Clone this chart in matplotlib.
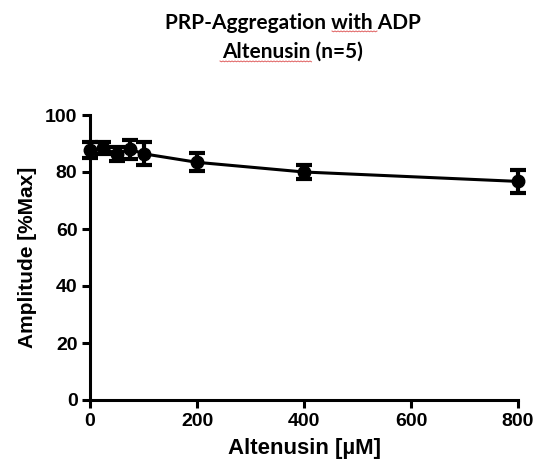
import matplotlib
matplotlib.use("Agg")
import matplotlib.pyplot as plt
import numpy as np

conc = [0, 25, 50, 75, 100, 200, 400, 800]
amplitude = [87.6, 88.4, 86.3, 88.0, 86.4, 83.4, 80.0, 76.7]
sem = [2.8, 2.0, 2.5, 3.4, 4.0, 3.2, 2.6, 4.0]
xticks = [0, 200, 400, 600, 800]
yticks = [0, 20, 40, 60, 80, 100]

fig = plt.figure(figsize=(5.36, 4.72), dpi=100)
ax = fig.add_axes([90/536, 1-400/472, (518-90)/536, (400-115)/472])

ax.errorbar(conc, amplitude, yerr=sem, color='black', lw=2.2, marker='o',
            markersize=9, capsize=5.5, capthick=3, elinewidth=3, clip_on=False, zorder=3)

ax.set_xlim(0, 800)
ax.set_ylim(0, 100)
ax.set_xticks(xticks)
ax.set_yticks(yticks)
for s in ['top', 'right']:
    ax.spines[s].set_visible(False)
for s in ['left', 'bottom']:
    ax.spines[s].set_linewidth(2.2)
ax.tick_params(direction='out', length=6, width=2.2, pad=3)
for lab in ax.get_xticklabels() + ax.get_yticklabels():
    lab.set_fontfamily('Liberation Sans')
    lab.set_fontweight('bold')
    lab.set_fontsize(14)

ax.set_xlabel('Altenusin [µM]', fontfamily='Liberation Sans', fontweight='bold', fontsize=16, labelpad=6)
ax.set_ylabel('Amplitude [%Max]', fontfamily='Liberation Sans', fontweight='bold', fontsize=15, labelpad=6)

fig.text(293/536, 1-23/472, 'PRP-Aggregation with ADP', ha='center', va='center',
         fontfamily='Lato', fontweight='bold', fontsize=15)
fig.text(293/536, 1-52/472, 'Altenusin (n=5)', ha='center', va='center',
         fontfamily='Lato', fontweight='bold', fontsize=15)

# spell-check squiggles seen in the reference title
def squiggle(x0, x1, y):
    xs = np.arange(x0, x1 + 1, 1.5)
    ys = y + 0.8 * (np.arange(len(xs)) % 2)
    fig.add_artist(plt.Line2D(xs / 536, 1 - ys / 472, color='#e06060', lw=0.7))

squiggle(332, 377, 31)
squiggle(220, 312, 61)

fig.savefig('out.png', dpi=100)
